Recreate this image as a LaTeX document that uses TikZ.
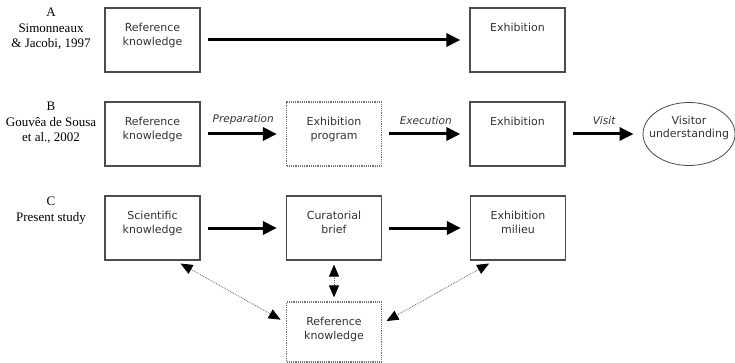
\documentclass[tikz,border=0pt]{standalone}
\usepackage{fontspec}
\setmainfont{Liberation Serif}
\newfontfamily\vfont{DejaVu Sans}
\usetikzlibrary{arrows.meta,shapes.geometric}

\begin{document}
\begin{tikzpicture}[x=1pt, y=-1pt,
        box/.style={draw=black!70, line width=1.2pt, minimum width=95pt, minimum height=64pt, inner sep=0pt},
        dotbox/.style={box, draw=black!55, densely dotted},
        txt/.style={inner sep=0pt, align=center, text=black!80, font=\vfont\fontsize{11}{13.5}\selectfont},
        toptxt/.style={txt, anchor=north, yshift=-16pt},
        lbl/.style={midway, above=8pt, inner sep=0pt, text=black!80, font=\vfont\itshape\fontsize{10.5}{13}\selectfont},
        row/.style={align=center, inner sep=0pt, font=\fontsize{13}{15.5}\selectfont},
        flow/.style={line width=3pt, -{Triangle[length=14pt,width=13pt]}, shorten <=7pt, shorten >=9pt},
        link/.style={draw=black!60, line width=0.8pt, densely dotted,
            {Triangle[length=12pt,width=10pt,color=black]}-{Triangle[length=12pt,width=10pt,color=black]},
            shorten <=6pt, shorten >=6pt}]
    \useasboundingbox (0,0) rectangle (735,363);
    % A: Simonneaux & Jacobi
    \node[row] (labA) at (51,29) {A\\Simonneaux\\\& Jacobi, 1997};
    \node[box, label={[toptxt]north:Reference\\knowledge}] (refA) at (152.5,40) {};
    \node[box, label={[toptxt]north:Exhibition}] (exhA) at (517.5,40) {};
    \draw[flow] (refA) -- (exhA);
    % B: Gouvea de Sousa et al.
    \node[row] (labB) at (51,123) {B\\Gouvêa de Sousa\\et al., 2002};
    \node[box, label={[toptxt]north:Reference\\knowledge}] (refB) at (152.5,134) {};
    \node[dotbox, label={[toptxt]north:Exhibition\\program}] (progB) at (334,134) {};
    \node[box, label={[toptxt]north:Exhibition}] (exhB) at (517.5,134) {};
    \node[ellipse, draw=black!70, line width=0.8pt, minimum width=92pt, minimum height=63pt, inner sep=0pt,
        label={[txt, anchor=center, yshift=6pt]center:Visitor\\understanding}] (visB) at (689,134) {};
    \draw[flow] (refB) -- (progB) node[lbl] {Preparation};
    \draw[flow] (progB) -- (exhB) node[lbl] {Execution};
    \draw[flow] (exhB) -- (visB) node[lbl] {Visit};
    % C: present study
    \node[row] (labC) at (51,210.5) {C\\Present study};
    \node[box, label={[toptxt]north:Scientific\\knowledge}] (sciC) at (152.5,228) {};
    \node[box, label={[toptxt]north:Curatorial\\brief}] (curC) at (334,228) {};
    \node[box, label={[toptxt]north:Exhibition\\milieu}] (milC) at (518,228) {};
    \node[dotbox, minimum height=60pt, label={[toptxt]north:Reference\\knowledge}] (refC) at (334,332) {};
    \draw[flow] (sciC) -- (curC);
    \draw[flow] (curC) -- (milC);
    \draw[link] (sciC.-55) -- (refC.169);
    \draw[link, shorten <=4pt, shorten >=4pt] (curC) -- (refC);
    \draw[link, shorten >=5pt] (milC.-126) -- (refC.10);
\end{tikzpicture}
\end{document}
